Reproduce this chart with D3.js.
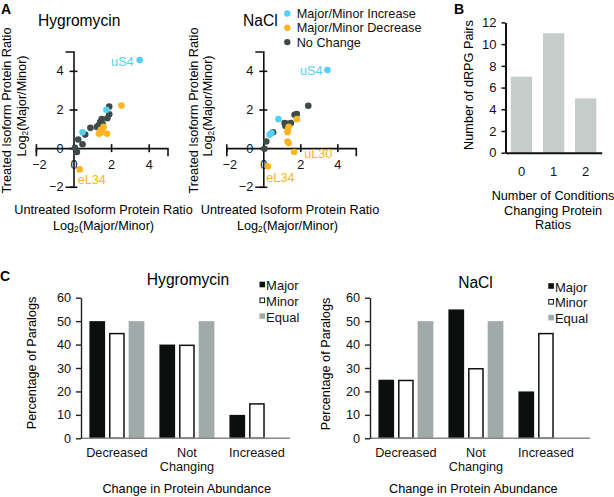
<!DOCTYPE html>
<html><head><meta charset="utf-8">
<script src="https://cdn.jsdelivr.net/npm/d3@7"></script>
<style>
body{margin:0;background:#fff;}
svg{font-family:"Liberation Sans",Arial,sans-serif;display:block;}
</style></head><body>
<svg id="fig" width="614" height="497"></svg>
<script>
// ---------------- DATA ----------------
// Panel A: scatter series (x = untreated log2 ratio, y = treated log2 ratio)
const scatterSeries = ["Major/Minor Increase", "Major/Minor Decrease", "No Change"];
const scatterColors = ["#55d0f2", "#f9b522", "#3f4a4a"];

const hygIncrease = [[0.48,0.82],[1.75,1.98],[3.52,4.56]];
const hygDecrease = [[0.33,-1.1],[1.35,0.75],[1.45,0.95],[1.6,1.1],[1.52,0.82],[1.78,0.75],[2.55,2.2]];
const hygNoChange = [[0.08,0.02],[0.18,-0.2],[0.25,0.45],[0.48,0.2],[0.62,0.7],[0.9,1.05],[1.25,1.1],[1.35,1.2],
                     [1.42,1.35],[1.5,1.5],[1.55,1.25],[1.8,1.55],[1.9,1.75],[1.9,2.15]];

const naclIncrease = [[0.35,0.69],[0.44,0.79],[0.82,1.5],[3.47,4.04]];
const naclDecrease = [[1.37,1.11],[1.31,0.82],[1.33,0.95],[1.31,0.34],[1.37,0.26],[1.81,1.5],[1.67,-0.2],[0.25,-0.94]];
const naclNoChange = [[0.06,-0.03],[0.16,0.34],[0.53,0.82],[1.15,1.3],[1.2,1.15],[1.31,1.26],[1.49,1.3],
                      [1.69,1.73],[1.81,1.76],[2.43,2.19]];

const scatterTicks = [-2, 0, 2, 4];
// labelled points: [name, seriesIndex, x, y]
const hygLabels = [["uS4",0,3.52,4.56],["eL34",1,0.33,-1.1]];
const naclLabels = [["uS4",0,3.47,4.04],["uL30",1,1.67,-0.2],["eL34",1,0.25,-0.94]];

// Panel B
const condCategories = ["0","1","2"];
const condCounts = [7, 11, 5];
const condTicks = [0,2,4,6,8,10,12];

// Panel C
const abundCategories = ["Decreased", "Not Changing", "Increased"];
const paralogKeys = ["Major", "Minor", "Equal"];
const hygMajor = [50, 40, 10];
const hygMinor = [45, 40, 15];
const hygEqual = [50, 50, 0];
const naclMajor = [25, 55, 20];
const naclMinor = [25, 30, 45];
const naclEqual = [50, 50, 0];
const pctTicks = [0,10,20,30,40,50,60];

// ---------------- DRAW ----------------
const svg = d3.select("#fig");
const FS = 12.7;
const fmt = d3.format("d");

function panelLetter(t, x, y){
  svg.append("text").attr("x",x).attr("y",y).attr("font-size",14).attr("font-weight","bold").text(t);
}
panelLetter("A", 1, 14);
panelLetter("B", 454, 14);
panelLetter("C", 0, 281);

function log2Label(sel){
  sel.append("tspan").text("Log");
  sel.append("tspan").attr("font-size", FS*0.65).attr("dy", 2).text("2");
  sel.append("tspan").attr("dy", -2).text("(Major/Minor)");
}

function scatterPanel(o){
  const x = d3.scaleLinear().domain([-2,5]).range(o.xr);
  const y = d3.scaleLinear().domain([-2,5]).range(o.yr);
  const g = svg.append("g");
  const xa = g.append("g").attr("transform",`translate(0,${y(0)})`)
    .call(d3.axisBottom(x).tickValues(scatterTicks).tickFormat(fmt).tickSizeOuter(0).tickSize(8));
  xa.selectAll(".tick line").attr("y1",-4).attr("y2",4);
  xa.selectAll(".tick text").attr("y",12).attr("font-size",FS).attr("font-family","inherit")
    .attr("dx", d => d < 0 ? 3 : 0);
  const ya = g.append("g").attr("transform",`translate(${x(0)},0)`)
    .call(d3.axisLeft(y).tickValues(scatterTicks).tickFormat(fmt).tickSizeOuter(0).tickSize(8));
  ya.selectAll(".tick line").attr("x1",-4).attr("x2",4);
  ya.selectAll(".tick text").attr("x",-10).attr("font-size",FS).attr("font-family","inherit");
  [xa,ya].forEach(a=>{
    a.select(".domain").attr("stroke","#111").attr("stroke-width",1.6);
    a.selectAll(".tick line").attr("stroke","#111").attr("stroke-width",1.6);
    a.selectAll(".tick text").attr("fill","#111");
  });
  // points: no change first, then decrease, then increase
  [2,1,0].forEach(si=>{
    g.append("g").selectAll("circle").data(o.series[si]).join("circle")
      .attr("cx",d=>x(d[0])).attr("cy",d=>y(d[1])).attr("r",3.3)
      .attr("fill",scatterColors[si]);
  });
  const off = o.labelOffsets;
  g.selectAll("text.pl").data(o.labels).join("text").attr("class","pl")
    .attr("x",(d,i)=>x(d[2])+off[i][0]).attr("y",(d,i)=>y(d[3])+off[i][1])
    .attr("text-anchor",(d,i)=>off[i][2]).attr("font-size",FS)
    .attr("fill",d=>scatterColors[d[1]]).text(d=>d[0]);
  svg.append("text").attr("x",o.title[1]).attr("y",o.title[2]).attr("font-size",15.6).text(o.title[0]);
  svg.append("text").attr("transform",`translate(${o.ytx[0]},${o.ytx[1]}) rotate(-90)`)
    .attr("text-anchor","middle").attr("font-size",FS).text("Treated Isoform Protein Ratio");
  log2Label(svg.append("text").attr("transform",`translate(${o.ytx[2]},${o.ytx[3]}) rotate(-90)`)
    .attr("text-anchor","middle").attr("font-size",FS));
  svg.append("text").attr("x",o.xtx[0]).attr("y",214).attr("text-anchor","middle").attr("font-size",FS)
    .text("Untreated Isoform Protein Ratio");
  log2Label(svg.append("text").attr("x",o.xtx[1]).attr("y",229.5).attr("text-anchor","middle").attr("font-size",FS));
}

scatterPanel({
  xr:[35.9,167.5], yr:[186.8,51.5],
  series:[hygIncrease,hygDecrease,hygNoChange],
  labels:hygLabels, labelOffsets:[[-6,6,"end"],[-2,15,"start"]],
  title:["Hygromycin",38,26.2], ytx:[11,110.5,26,106], xtx:[103.5,103.5]
});
scatterPanel({
  xr:[226.3,355.8], yr:[186.8,51.5],
  series:[naclIncrease,naclDecrease,naclNoChange],
  labels:naclLabels, labelOffsets:[[-5,5,"end"],[10,5.5,"start"],[-1.6,15.7,"start"]],
  title:["NaCl",243,25.5], ytx:[197.5,110.5,212,106], xtx:[290,287.5]
});

// legend A
const legA = svg.append("g");
scatterSeries.forEach((s,i)=>{
  legA.append("circle").attr("cx",287.3).attr("cy",13.5+i*14.3).attr("r",3.2).attr("fill",scatterColors[i]);
  legA.append("text").attr("x",296.7).attr("y",18+i*14.3).attr("font-size",FS).attr("fill","#111").text(s);
});

// ---------------- Panel B ----------------
(function(){
  const x = d3.scaleBand().domain(condCategories).range([505.5,601.7]).paddingInner(0.336).paddingOuter(0.167);
  const y = d3.scaleLinear().domain([0,12]).range([152.7,22.4]);
  const g = svg.append("g");
  g.selectAll("rect").data(condCounts).join("rect")
    .attr("x",(d,i)=>x(condCategories[i])).attr("width",x.bandwidth())
    .attr("y",d=>y(d)).attr("height",d=>y(0)-y(d)).attr("fill","#c5ccca");
  const ya = g.append("g").attr("transform",`translate(505.5,0)`)
    .call(d3.axisLeft(y).tickValues(condTicks).tickFormat(fmt).tickSize(4).tickSizeOuter(0).tickPadding(5));
  const xa = g.append("g").attr("transform",`translate(0,152.7)`)
    .call(d3.axisBottom(x).tickSize(0).tickPadding(14));
  [xa,ya].forEach(a=>{
    a.select(".domain").attr("stroke","#111").attr("stroke-width",2);
    a.selectAll(".tick line").attr("stroke","#111").attr("stroke-width",1.5);
    a.selectAll(".tick text").attr("font-size",13).attr("font-family","inherit").attr("fill","#111");
  });
  svg.append("text").attr("transform","translate(473,85) rotate(-90)").attr("text-anchor","middle")
    .attr("font-size",FS).text("Number of dRPG Pairs");
  ["Number of Conditions","Changing Protein","Ratios"].forEach((t,i)=>{
    svg.append("text").attr("x",553).attr("y",200+i*14.6).attr("text-anchor","middle").attr("font-size",FS).text(t);
  });
})();

// ---------------- Panel C ----------------
const barColors = {Major:"#0b0f0e", Minor:"#ffffff", Equal:"#a0aaa8"};
function groupedPanel(o){
  const x0 = d3.scaleBand().domain(abundCategories).range(o.xr).paddingInner(0.215).paddingOuter(0.1).align(0.6);
  const x1 = d3.scaleBand().domain(paralogKeys).range([0,x0.bandwidth()]).paddingInner(0.2);
  const y = d3.scaleLinear().domain([0,60]).range([438.3,297.7]);
  const g = svg.append("g");
  const vals = {Major:o.major, Minor:o.minor, Equal:o.equal};
  paralogKeys.forEach(k=>{
    const rows = abundCategories.map((c,i)=>({cat:c, v:vals[k][i]})).filter(d=>d.v>0);
    const inset = k==="Minor" ? 0.75 : 0;
    g.append("g").selectAll("rect").data(rows).join("rect")
      .attr("x",d=>x0(d.cat)+x1(k)+inset)
      .attr("width",x1.bandwidth()-2*inset)
      .attr("y",d=>y(d.v)+inset)
      .attr("height",d=>y(0)-y(d.v)-inset)
      .attr("fill",barColors[k])
      .attr("stroke",k==="Minor"?"#111":"none").attr("stroke-width",1.5);
  });
  const ya = g.append("g").attr("transform",`translate(${o.xr[0]},0)`)
    .call(d3.axisLeft(y).tickValues(pctTicks).tickFormat(fmt).tickSize(5).tickSizeOuter(0).tickPadding(5));
  ya.select(".domain").attr("stroke","#222").attr("stroke-width",1.4);
  ya.selectAll(".tick line").attr("stroke","#222").attr("stroke-width",1.4);
  ya.selectAll(".tick text").attr("font-size",FS).attr("font-family","inherit").attr("fill","#111");
  const xa = g.append("g").attr("transform",`translate(0,438.3)`)
    .call(d3.axisBottom(x0).tickSize(0).tickPadding(0));
  xa.select(".domain").attr("stroke","#888").attr("stroke-width",1.4)
    .attr("d",`M${o.xr[0]},0H${o.axisEnd}`);
  xa.selectAll(".tick text").attr("font-size",FS).attr("font-family","inherit").attr("fill","#111")
    .attr("y",18.4).attr("dy",0)
    .each(function(d){
      const t = d3.select(this); const parts = d.split(" ");
      if(parts.length>1){
        t.text(null);
        parts.forEach((p,i)=>t.append("tspan").attr("x",0).attr("dy",i?14.8:0).text(p));
      }
    });
  ya.raise();
  svg.append("text").attr("x",o.title[1]).attr("y",o.title[2]).attr("text-anchor","middle").attr("font-size",15.6).text(o.title[0]);
  svg.append("text").attr("transform",`translate(${o.ytitle[0]},${o.ytitle[1]}) rotate(-90)`)
    .attr("text-anchor","middle").attr("font-size",FS).text("Percentage of Paralogs");
  svg.append("text").attr("x",o.xtitle).attr("y",492.7).attr("text-anchor","middle").attr("font-size",FS)
    .text("Change in Protein Abundance");
  const lg = svg.append("g");
  paralogKeys.forEach((k,i)=>{
    const cy = o.leg[1] + i*15.8;
    const sz = k==="Minor" ? 4.6 : 5.6;
    lg.append("rect").attr("x",o.leg[0]+(k==="Minor"?0.5:0)).attr("y",cy-8.3+(k==="Minor"?0.5:0))
      .attr("width",sz).attr("height",sz)
      .attr("fill",barColors[k]).attr("stroke",k==="Minor"?"#111":"none").attr("stroke-width",1);
    lg.append("text").attr("x",o.leg[0]+6.6).attr("y",cy).attr("font-size",13).attr("fill","#111").text(k);
  });
}

groupedPanel({xr:[81,290], axisEnd:290, major:hygMajor, minor:hygMinor, equal:hygEqual,
  title:["Hygromycin",188,285], ytitle:[36,363], xtitle:186.7, leg:[259.5,290]});
groupedPanel({xr:[370,579], axisEnd:590, major:naclMajor, minor:naclMinor, equal:naclEqual,
  title:["NaCl",475.5,288], ytitle:[330,364], xtitle:473.3, leg:[548.3,291.5]});
</script>
</body></html>
